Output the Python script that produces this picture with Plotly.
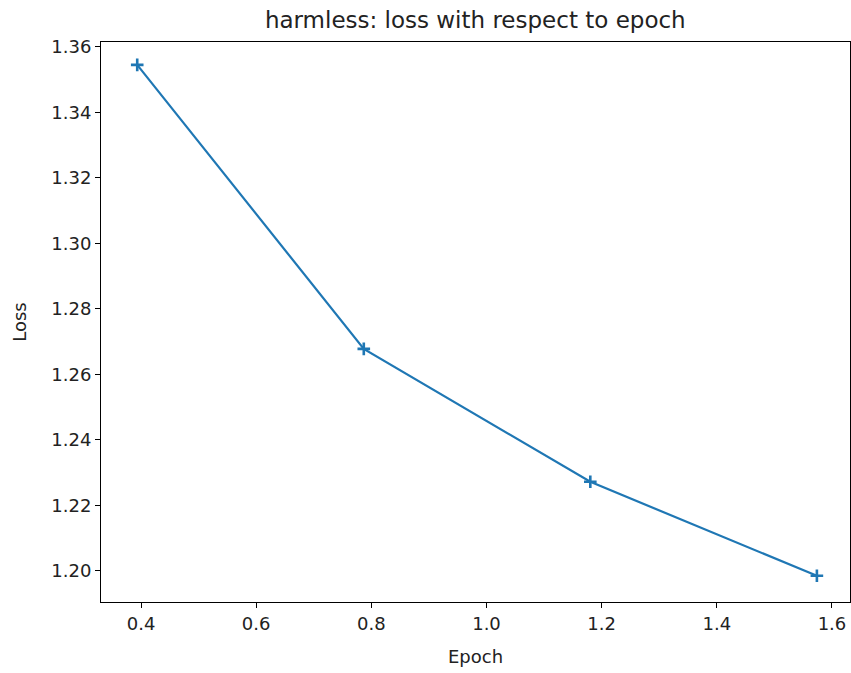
import plotly.graph_objects as go

epochs = [0.3934, 0.7869, 1.1803, 1.5738]
loss = [1.3545, 1.2678, 1.2272, 1.1985]
x_ticks = [0.4, 0.6, 0.8, 1.0, 1.2, 1.4, 1.6]
x_tick_text = ["0.4", "0.6", "0.8", "1.0", "1.2", "1.4", "1.6"]
y_ticks = [1.20, 1.22, 1.24, 1.26, 1.28, 1.30, 1.32, 1.34, 1.36]
y_tick_text = ["1.20", "1.22", "1.24", "1.26", "1.28", "1.30", "1.32", "1.34", "1.36"]

FONT = "DejaVu Sans"
fig = go.Figure()
fig.add_trace(go.Scatter(
    x=epochs, y=loss, mode="lines+markers",
    line=dict(color="#1f77b4", width=2.2),
    marker=dict(symbol="cross-thin", size=9, color="#1f77b4",
                line=dict(color="#1f77b4", width=2.6)),
    showlegend=False,
))

axis_common = dict(
    showgrid=False, zeroline=False, showline=True, linecolor="black",
    linewidth=1, mirror=True, ticks="outside", ticklen=5, tickwidth=1,
    tickcolor="black", tickfont=dict(family=FONT, size=18, color="#222"),
)
fig.update_layout(
    width=851, height=673,
    margin=dict(l=101, r=1, t=42, b=71),
    paper_bgcolor="white", plot_bgcolor="white",
    title=dict(text="harmless: loss with respect to epoch", x=0.5585, xanchor="center",
               y=1 - 20 / 673, yanchor="middle",
               font=dict(family=FONT, size=23, color="#222")),
    xaxis=dict(range=[0.3305, 1.6313], tickvals=x_ticks, ticktext=x_tick_text,
               title=dict(text="Epoch", font=dict(family=FONT, size=18, color="#222"), standoff=17),
               **axis_common),
    yaxis=dict(range=[1.1905, 1.3615], tickvals=y_ticks, ticktext=y_tick_text,
               title=dict(text="Loss", font=dict(family=FONT, size=18, color="#222"), standoff=20),
               **axis_common),
)
fig.write_html("out.html")
